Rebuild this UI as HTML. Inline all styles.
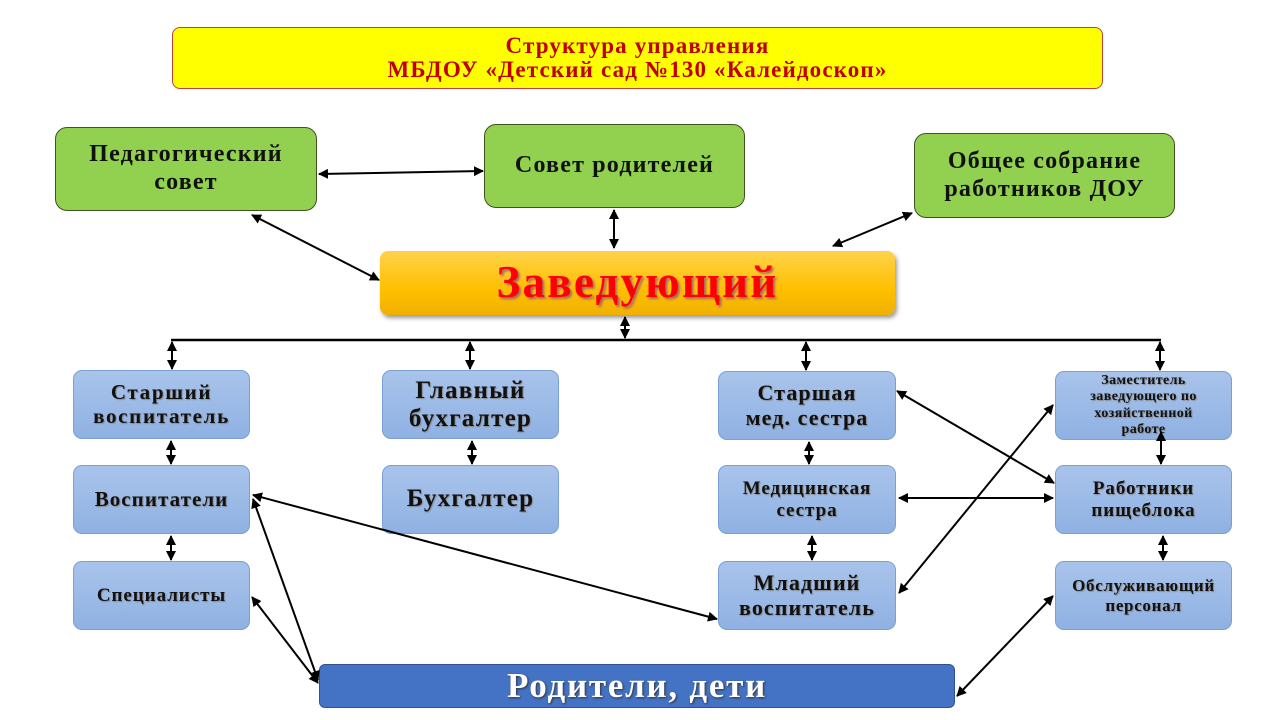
<!DOCTYPE html>
<html><head><meta charset="utf-8"><style>
body{margin:0;width:1280px;height:720px;background:#fff;position:relative;overflow:hidden;font-family:"Liberation Serif",serif;font-weight:bold}
.b{position:absolute;display:flex;align-items:center;justify-content:center;text-align:center;box-sizing:border-box;line-height:1.15;letter-spacing:0.05em;white-space:nowrap}
.g{background:#92d050;border:1px solid #41521f;border-radius:12px;font-size:24px;color:#111}
.u{background:linear-gradient(#a9c4eb,#8fb1e3);border:1px solid #7a9fd3;border-radius:9px;font-size:22px;color:#111;text-shadow:1px 1px 1px #888}
svg{position:absolute;left:0;top:0}
</style></head><body>
<div class="b" style="left:172px;top:27px;width:931px;height:62px;background:#ffff00;border:1px solid #c04040;border-radius:8px;color:#c00000;font-size:23px;line-height:1.05">Структура управления<br>МБДОУ «Детский сад №130 «Калейдоскоп»</div>
<div class="b g" style="left:55px;top:127px;width:262px;height:84px">Педагогический<br>совет</div>
<div class="b g" style="left:484px;top:124px;width:261px;height:84px">Совет родителей</div>
<div class="b g" style="left:914px;top:133px;width:261px;height:85px">Общее собрание<br>работников ДОУ</div>
<div class="b" style="left:380px;top:251px;width:515px;height:64px;background:linear-gradient(#ffd24a,#ffc000 60%,#f0b000);border-radius:8px;box-shadow:2px 3px 4px #999;color:#f00;font-size:45px;text-shadow:2px 2px 2px #a66">Заведующий</div>
<div class="b u" style="left:73px;top:370px;width:177px;height:69px;font-size:21px;letter-spacing:0.08em;line-height:1.1">Старший<br>воспитатель</div>
<div class="b u" style="left:73px;top:465px;width:177px;height:69px;font-size:21px">Воспитатели</div>
<div class="b u" style="left:73px;top:561px;width:177px;height:69px;font-size:19px">Специалисты</div>
<div class="b u" style="left:382px;top:370px;width:177px;height:69px;font-size:25px;line-height:1.1">Главный<br>бухгалтер</div>
<div class="b u" style="left:382px;top:465px;width:177px;height:69px;font-size:25px">Бухгалтер</div>
<div class="b u" style="left:718px;top:371px;width:178px;height:69px;font-size:22px;line-height:1.1">Старшая<br>мед. сестра</div>
<div class="b u" style="left:718px;top:465px;width:178px;height:69px;font-size:19px">Медицинская<br>сестра</div>
<div class="b u" style="left:718px;top:561px;width:178px;height:69px;font-size:22px;line-height:1.1">Младший<br>воспитатель</div>
<div class="b u" style="left:1055px;top:371px;width:177px;height:69px;font-size:14px;line-height:1.15;letter-spacing:0.03em">Заместитель<br>заведующего по<br>хозяйственной<br>работе</div>
<div class="b u" style="left:1055px;top:465px;width:177px;height:69px;font-size:19px">Работники<br>пищеблока</div>
<div class="b u" style="left:1055px;top:561px;width:177px;height:69px;font-size:17px;letter-spacing:0.04em">Обслуживающий<br>персонал</div>
<div class="b" style="left:319px;top:664px;width:636px;height:44px;background:#4472c4;border:1px solid #2f528f;border-radius:6px;color:#fff;font-size:35px;text-shadow:1px 1px 2px #333">Родители, дети</div>
<svg width="1280" height="720">
<defs><marker id="a" viewBox="0 0 10 10" refX="9" refY="5" markerWidth="5" markerHeight="5" orient="auto-start-reverse"><path d="M0,0L10,5L0,10z" fill="#000"/></marker></defs>
<g stroke="#000" stroke-width="2" fill="none" marker-start="url(#a)" marker-end="url(#a)">
<line x1="625" y1="317" x2="625" y2="338"/>
<line x1="172" y1="342" x2="172" y2="369"/>
<line x1="470" y1="342" x2="470" y2="369"/>
<line x1="806" y1="342" x2="806" y2="370"/>
<line x1="1160" y1="342" x2="1160" y2="370"/>
<line x1="319" y1="174" x2="483" y2="171"/>
<line x1="614" y1="210" x2="614" y2="248"/>
<line x1="912" y1="213" x2="833" y2="246"/>
<line x1="252" y1="215" x2="379" y2="280"/>
<line x1="171" y1="441" x2="171" y2="464"/>
<line x1="171" y1="536" x2="171" y2="560"/>
<line x1="472" y1="441" x2="472" y2="464"/>
<line x1="809" y1="442" x2="809" y2="464"/>
<line x1="812" y1="536" x2="812" y2="560"/>
<line x1="1161" y1="432" x2="1161" y2="464"/>
<line x1="1163" y1="536" x2="1163" y2="560"/>
<line x1="897" y1="391" x2="1054" y2="483"/>
<line x1="899" y1="498" x2="1053" y2="498"/>
<line x1="899" y1="593" x2="1053" y2="405"/>
<line x1="253" y1="495" x2="717" y2="619"/>
<line x1="252" y1="597" x2="318" y2="683"/>
<line x1="253" y1="499" x2="318" y2="680"/>
<line x1="957" y1="696" x2="1053" y2="596"/>
</g>
<line x1="171" y1="340" x2="1161" y2="340" stroke="#000" stroke-width="2.5"/>
</svg>
</body></html>
